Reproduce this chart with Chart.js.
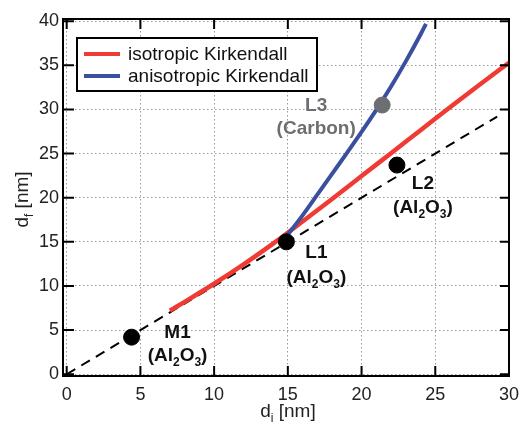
<!DOCTYPE html>
<html>
<head>
<meta charset="utf-8">
<script src="https://cdn.jsdelivr.net/npm/chart.js@4.4.0/dist/chart.umd.min.js"></script>
<style>
  html, body { margin: 0; padding: 0; background: #fff; }
</style>
</head>
<body>
<canvas id="chart" width="527" height="427"></canvas>
<script>
// curves
const isoLabel = 'isotropic Kirkendall';
const isoX = [7, 8, 10, 12, 14, 16, 18, 20, 22, 24, 26, 28, 30];
const isoY = [7.2, 8.2, 10.25, 12.45, 14.8, 17.3, 19.85, 22.45, 25.05, 27.65, 30.25, 32.8, 35.3];

const anisoLabel = 'anisotropic Kirkendall';
const anisoX = [14.9, 16, 17, 18, 19, 20, 21, 22, 23, 24, 24.37];
const anisoY = [15.6, 18.0, 20.35, 22.7, 25.05, 27.45, 29.95, 32.6, 35.45, 38.5, 39.7];

// d_f = d_i reference line
const refX = [0, 29.2];
const refY = [0, 29.2];

// measured samples
const sampleNames = ['M1', 'L1', 'L2'];
const sampleMaterial = ['(Al_2O_3)', '(Al_2O_3)', '(Al_2O_3)'];
const sampleX = [4.4, 14.9, 22.4];
const sampleY = [4.2, 15.0, 23.7];

const carbonNames = ['L3'];
const carbonMaterial = ['(Carbon)'];
const carbonX = [21.4];
const carbonY = [30.5];

const xTicks = [0, 5, 10, 15, 20, 25, 30];
const yTicks = [0, 5, 10, 15, 20, 25, 30, 35, 40];

const RED = '#ef3b33';
const BLUE = '#3a4f9f';
const GRAY = '#6d6e71';
const FONT = '"Liberation Sans", Arial, sans-serif';

function pts(xs, ys) {
    return xs.map((x, i) => ({ x: x, y: ys[i] }));
}

// draws text with "_x" subscripts, centred on cx
function richWidth(ctx, text, size, bold) {
    let w = 0;
    for (let i = 0; i < text.length; i++) {
        if (text[i] === '_') {
            ctx.font = (bold ? 'bold ' : '') + Math.round(size * 0.62) + 'px ' + FONT;
            w += ctx.measureText(text[i + 1]).width;
            i++;
        } else {
            ctx.font = (bold ? 'bold ' : '') + size + 'px ' + FONT;
            w += ctx.measureText(text[i]).width;
        }
    }
    return w;
}

function drawRich(ctx, text, cx, baseline, size, bold) {
    let x = cx - richWidth(ctx, text, size, bold) / 2;
    ctx.textAlign = 'left';
    ctx.textBaseline = 'alphabetic';
    for (let i = 0; i < text.length; i++) {
        if (text[i] === '_') {
            ctx.font = (bold ? 'bold ' : '') + Math.round(size * 0.62) + 'px ' + FONT;
            ctx.fillText(text[i + 1], x, baseline + size * 0.28);
            x += ctx.measureText(text[i + 1]).width;
            i++;
        } else {
            ctx.font = (bold ? 'bold ' : '') + size + 'px ' + FONT;
            ctx.fillText(text[i], x, baseline);
            x += ctx.measureText(text[i]).width;
        }
    }
}

// frame with inward ticks on all four sides
const framePlugin = {
    id: 'frame',
    afterDraw(chart) {
        const { ctx, chartArea: a, scales } = chart;
        ctx.save();
        ctx.strokeStyle = '#000';
        ctx.lineWidth = 2;
        ctx.strokeRect(a.left, a.top, a.right - a.left, a.bottom - a.top);
        ctx.beginPath();
        xTicks.forEach(v => {
            const px = scales.x.getPixelForValue(v);
            ctx.moveTo(px, a.bottom); ctx.lineTo(px, a.bottom - 10);
            ctx.moveTo(px, a.top); ctx.lineTo(px, a.top + 10);
        });
        yTicks.forEach(v => {
            const py = scales.y.getPixelForValue(v);
            ctx.moveTo(a.left, py); ctx.lineTo(a.left + 11, py);
            ctx.moveTo(a.right, py); ctx.lineTo(a.right - 9, py);
        });
        ctx.stroke();

        // axis titles
        ctx.fillStyle = '#222';
        drawRich(ctx, 'd_i [nm]', (a.left + a.right) / 2 + 2, 417, 19, false);
        ctx.save();
        ctx.translate(28, (a.top + a.bottom) / 2 + 2);
        ctx.rotate(-Math.PI / 2);
        drawRich(ctx, 'd_f [nm]', 0, 0, 19, false);
        ctx.restore();

        // legend box
        ctx.fillStyle = '#fff';
        ctx.fillRect(77, 38, 240, 53);
        ctx.strokeRect(77, 38, 240, 53);
        ctx.lineWidth = 4;
        [[RED, isoLabel, 54], [BLUE, anisoLabel, 76]].forEach(([c, t, y]) => {
            ctx.strokeStyle = c;
            ctx.beginPath();
            ctx.moveTo(84, y); ctx.lineTo(120, y);
            ctx.stroke();
            ctx.fillStyle = '#111';
            ctx.font = '19px ' + FONT;
            ctx.textAlign = 'left';
            ctx.textBaseline = 'middle';
            ctx.fillText(t, 128, y + 1);
        });
        ctx.restore();
    }
};

// sample labels, offsets in pixels from the marker
const labelOffsets = {
    M1: [46, 1, 24], L1: [30, 16, 41], L2: [26, 24, 48], L3: [-66, 6, 29]
};

const labelPlugin = {
    id: 'pointLabels',
    afterDatasetsDraw(chart) {
        const { ctx, scales } = chart;
        ctx.save();
        const put = (names, mats, xs, ys, color) => {
            names.forEach((n, i) => {
                const px = scales.x.getPixelForValue(xs[i]);
                const py = scales.y.getPixelForValue(ys[i]);
                const o = labelOffsets[n];
                ctx.fillStyle = color;
                drawRich(ctx, n, px + o[0], py + o[1], 19, true);
                drawRich(ctx, mats[i], px + o[0], py + o[2], 19, true);
            });
        };
        put(sampleNames, sampleMaterial, sampleX, sampleY, '#111');
        put(carbonNames, carbonMaterial, carbonX, carbonY, GRAY);
        ctx.restore();
    }
};

new Chart(document.getElementById('chart'), {
    type: 'scatter',
    data: {
        datasets: [
            {
                label: isoLabel, data: pts(isoX, isoY), showLine: true,
                borderColor: RED, borderWidth: 4.5, pointRadius: 0,
                cubicInterpolationMode: 'monotone', order: 3
            },
            {
                label: anisoLabel, data: pts(anisoX, anisoY), showLine: true,
                borderColor: BLUE, borderWidth: 4, pointRadius: 0,
                cubicInterpolationMode: 'monotone', order: 2
            },
            {
                label: 'd_f = d_i', data: pts(refX, refY), showLine: true,
                borderColor: '#000', borderWidth: 2, borderDash: [10, 7],
                pointRadius: 0, order: 4
            },
            {
                label: 'Al2O3', data: pts(sampleX, sampleY),
                backgroundColor: '#000', borderColor: '#000', pointRadius: 8, order: 1
            },
            {
                label: 'Carbon', data: pts(carbonX, carbonY),
                backgroundColor: GRAY, borderColor: GRAY, pointRadius: 8, order: 1
            }
        ]
    },
    options: {
        responsive: false,
        animation: false,
        layout: { padding: { top: 19, right: 9, left: 0, bottom: 0 } },
        plugins: { legend: { display: false }, tooltip: { enabled: false } },
        scales: {
            x: {
                type: 'linear', min: -0.25, max: 30,
                afterBuildTicks: axis => { axis.ticks = xTicks.map(v => ({ value: v })); },
                afterFit: scale => { scale.height = 51; },
                grid: { color: '#999', lineWidth: 1, drawTicks: false },
                border: { display: false, dash: [1.5, 2.5] },
                ticks: { padding: 8, color: '#222', font: { family: FONT, size: 18 } }
            },
            y: {
                type: 'linear', min: -0.2, max: 40.25,
                afterBuildTicks: axis => { axis.ticks = yTicks.map(v => ({ value: v })); },
                afterFit: scale => { scale.width = 63; },
                grid: { color: '#999', lineWidth: 1, drawTicks: false },
                border: { display: false, dash: [1.5, 2.5] },
                ticks: { padding: 4, color: '#222', font: { family: FONT, size: 18 } }
            }
        }
    },
    plugins: [framePlugin, labelPlugin]
});
</script>
</body>
</html>
